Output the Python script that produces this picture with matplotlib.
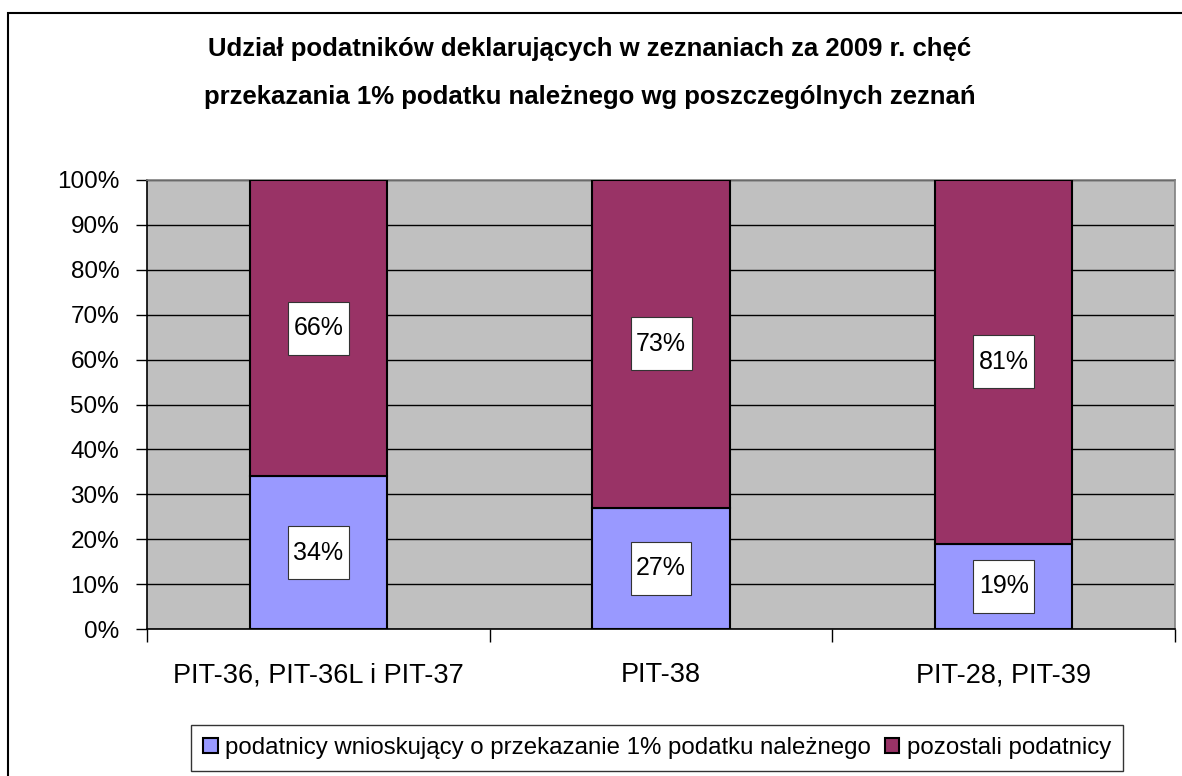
import matplotlib.pyplot as plt
from matplotlib.patches import Rectangle
from matplotlib.path import Path
import numpy as np

plt.rcParams['font.family'] = ['Liberation Sans', 'DejaVu Sans']

categories = ["PIT-36, PIT-36L i PIT-37", "PIT-38", "PIT-28, PIT-39"]
wnioskujacy = [34, 27, 19]
pozostali = [66, 73, 81]
series_names = ["podatnicy wnioskujący o przekazanie 1% podatku należnego",
                "pozostali podatnicy"]

W, H = 1182, 776
fig = plt.figure(figsize=(W / 100, H / 100), dpi=100)

# outer chart frame (cropped on the right and bottom)
fig.patches.append(Rectangle((8 / W, -0.2), 1.2, 1.2 - 13 / H, transform=fig.transFigure,
                             fill=False, edgecolor="black", linewidth=1.5))

ax = fig.add_axes([147 / W, 1 - 629 / H, (1175 - 147) / W, (629 - 180) / H])
ax.set_facecolor("#C0C0C0")

x = np.arange(len(categories))
bw = 0.4
b1 = ax.bar(x, wnioskujacy, width=bw, color="#9999FF", edgecolor="black",
            linewidth=1.5, label=series_names[0], zorder=3)
b2 = ax.bar(x, pozostali, width=bw, bottom=wnioskujacy, color="#993366",
            edgecolor="black", linewidth=1.5, label=series_names[1], zorder=3)


# label box: a bit wider than the text and much taller, like in excel
def tall_box(x0, y0, width, height, mutation_size):
    px, py = 0.22 * mutation_size, 0.58 * mutation_size
    x0, y0 = x0 - px, y0 - py
    x1, y1 = x0 + width + 2 * px, y0 + height + 2 * py
    return Path([(x0, y0), (x1, y0), (x1, y1), (x0, y1), (x0, y0)], closed=True)


box = dict(boxstyle=tall_box, facecolor="white", edgecolor="#333333", linewidth=0.8)
for i in range(len(categories)):
    ax.text(x[i], wnioskujacy[i] / 2, f"{wnioskujacy[i]}%", ha="center", va="center",
            fontsize=18, bbox=box, zorder=5)
    ax.text(x[i], wnioskujacy[i] + pozostali[i] / 2, f"{pozostali[i]}%", ha="center",
            va="center", fontsize=18, bbox=box, zorder=5)

ax.set_xlim(-0.5, len(categories) - 0.5)
ax.set_ylim(0, 100)
ax.set_yticks(np.arange(0, 101, 10))
ax.set_yticklabels([f"{v}%" for v in range(0, 101, 10)])
ax.yaxis.grid(True, color="black", linewidth=1)
ax.set_axisbelow(True)

ax.set_xticks(x)
ax.set_xticklabels(categories)
ax.set_xticks(np.arange(-0.5, len(categories)), minor=True)
ax.tick_params(axis="x", which="major", length=0, pad=24, labelsize=19.5)
ax.tick_params(axis="x", which="minor", length=9, width=1, color="black")
ax.tick_params(axis="y", length=8, width=1, labelsize=17.5, pad=12)

for s in ax.spines.values():
    s.set_color("#808080")
    s.set_linewidth(1.2)
ax.spines["bottom"].set_color("black")
ax.spines["left"].set_color("black")

fig.text(590 / W, 1 - 73 / H,
         "Udział podatników deklarujących w zeznaniach za 2009 r. chęć\n"
         "przekazania 1% podatku należnego wg poszczególnych zeznań",
         ha="center", va="center", fontsize=18.5, fontweight="bold", linespacing=2.25)

leg = fig.legend(handles=[b1, b2], loc="center", bbox_to_anchor=(657 / W, 1 - 748 / H),
                 ncol=2, fontsize=17.3, frameon=True, fancybox=False, handlelength=0.6,
                 handleheight=0.6, handletextpad=0.3, columnspacing=0.6, borderpad=0.5)
leg.get_frame().set_edgecolor("black")
leg.get_frame().set_linewidth(1)

fig.savefig("out.png", dpi=100)
